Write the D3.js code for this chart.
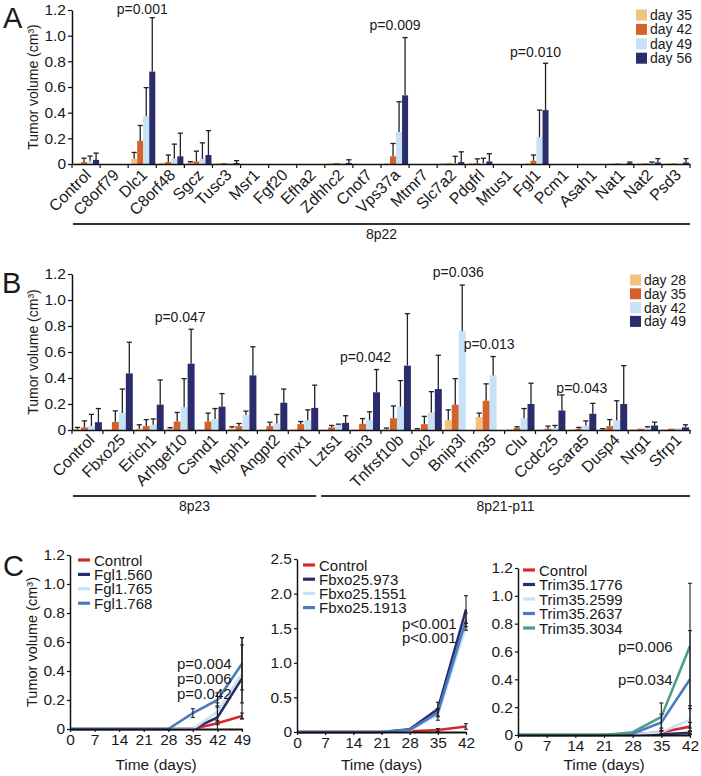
<!DOCTYPE html>
<html><head><meta charset="utf-8">
<script src="https://cdn.jsdelivr.net/npm/d3@7"></script>
<style>
body{margin:0;background:#fff}
svg{display:block}
text{font-family:"Liberation Sans",Arial,sans-serif;fill:#1a1a1a}
</style>
</head><body>
<svg id="c" width="701" height="776"></svg>
<script>
// ---------- Panel A data ----------
const catsA = ["Control","C8orf79","Dlc1","C8orf48","Sgcz","Tusc3","Msr1","Fgf20","Efha2","Zdhhc2","Cnot7","Vps37a","Mtmr7","Slc7a2","Pdgfrl","Mtus1","Fgl1","Pcm1","Asah1","Nat1","Nat2","Psd3"];
const legendA = ["day 35","day 42","day 49","day 56"];
const a35 = [0.005,0,0.04,0.01,0.01,0.008,0,0,0,0.008,0,0.005,0,0.005,0.008,0,0.005,0,0,0.005,0.005,0.005];
const a42 = [0.015,0,0.18,0.015,0.02,0.008,0,0,0,0.008,0,0.06,0,0.005,0.005,0,0.025,0,0,0.005,0.005,0.005];
const a49 = [0.025,0,0.375,0.04,0.04,0.008,0,0,0,0.008,0,0.25,0,0.005,0.005,0,0.21,0,0,0.005,0.005,0.005];
const a56 = [0.032,0,0.72,0.06,0.07,0.008,0,0,0,0.008,0,0.535,0,0.015,0.02,0,0.42,0,0,0.007,0.012,0.012];
const ea35 = [0,0,0.05,0,0.008,0,0,0,0,0,0,0,0,0,0,0,0,0,0,0,0,0];
const ea42 = [0.03,0,0.12,0.055,0.08,0,0,0,0,0,0,0.1,0,0,0.035,0,0.045,0,0,0,0,0];
const ea49 = [0.037,0,0.22,0.115,0.125,0,0,0,0,0,0,0.235,0,0.055,0.04,0,0.21,0,0,0,0.01,0];
const ea56 = [0.053,0,0.42,0.18,0.19,0.018,0,0,0,0.025,0,0.45,0,0.08,0.06,0,0.365,0,0,0.008,0.03,0.03];
const pA = [{cat:"Dlc1",text:"p=0.001",v:1.168},{cat:"Vps37a",text:"p=0.009",v:1.044},{cat:"Fgl1",text:"p=0.010",v:0.834}];
const groupsA = [{label:"8p22",from:"Control",to:"Psd3"}];

// ---------- Panel B data ----------
const catsB = ["Control","Fbxo25","Erich1","Arhgef10","Csmd1","Mcph1","Angpt2","Pinx1","Lzts1","Bin3","Tnfrsf10b","Loxl2","Bnip3l","Trim35","Clu","Ccdc25","Scara5","Dusp4","Nrg1","Sfrp1"];
const legendB = ["day 28","day 35","day 42","day 49"];
const b28 = [0.005,0.005,0.01,0.01,0.005,0.015,0.005,0.005,0.005,0.005,0.005,0.005,0.075,0.1,0.005,0.005,0.005,0.005,0.005,0.005];
const b35 = [0.02,0.062,0.03,0.065,0.065,0.03,0.03,0.045,0.02,0.048,0.09,0.045,0.195,0.225,0.015,0.01,0.01,0.03,0.01,0.01];
const b42 = [0.03,0.13,0.04,0.175,0.085,0.115,0.05,0.075,0.04,0.075,0.18,0.135,0.76,0.42,0.09,0.015,0.035,0.075,0.02,0.015];
const b49 = [0.06,0.435,0.195,0.51,0.18,0.42,0.21,0.17,0.055,0.29,0.495,0.315,0,0,0.2,0.15,0.125,0.2,0.035,0.02];
const eb28 = [0.015,0,0.03,0.008,0,0.01,0,0,0,0,0.01,0.005,0.08,0.03,0,0,0,0.005,0,0];
const eb35 = [0.05,0.085,0.05,0.07,0.065,0.02,0.03,0.02,0.015,0.04,0.095,0.06,0.2,0.13,0.01,0.02,0.01,0.05,0,0];
const eb42 = [0.09,0.185,0.045,0.22,0.08,0.03,0.07,0.08,0.005,0.065,0.2,0.16,0.355,0.145,0.075,0.02,0.035,0.15,0.005,0];
const eb49 = [0.105,0.24,0.19,0.265,0.1,0.22,0.105,0.175,0.055,0.175,0.4,0.26,0,0,0.16,0.12,0.08,0.295,0.025,0.02];
const pB = [{cat:"Arhgef10",text:"p=0.047",v:0.83},{cat:"Bin3",text:"p=0.042",v:0.52},{cat:"Bnip3l",text:"p=0.036",v:1.18},{cat:"Trim35",text:"p=0.013",v:0.62},{cat:"Scara5",text:"p=0.043",v:0.285}];
const groupsB = [{label:"8p23",from:"Control",to:"Pinx1"},{label:"8p21-p11",from:"Lzts1",to:"Sfrp1"}];

const barColors = ["#F4C27F","#D4622B","#C7E1F6","#2A2C6C"];

// ---------- Panel C data ----------
const daysC1 = [0,7,14,21,28,35,42,49];
const daysC23 = [0,7,14,21,28,35,42];
const namesC1 = ["Control","Fgl1.560","Fgl1.765","Fgl1.768"];
const c1Control = [0,0,0,0,0,0,0.04,0.09];
const c1Fgl560  = [0,0,0,0,0,0,0.08,0.35];
const c1Fgl765  = [0,0,0,0,0,0,0.12,0.38];
const c1Fgl768  = [0,0,0,0,0,0.11,0.2,0.45];
const ec1Control = [0,0,0,0,0,0,0.01,0.02];
const ec1Fgl560  = [0,0,0,0,0,0,0.08,0.28];
const ec1Fgl765  = [0,0,0,0,0,0,0.06,0.2];
const ec1Fgl768  = [0,0,0,0,0,0.03,0.05,0.18];
const pC1 = ["p=0.004","p=0.006","p=0.042"];

const namesC2 = ["Control","Fbxo25.973","Fbxo25.1551","Fbxo25.1913"];
const c2Control = [0,0,0,0,0.01,0.03,0.08];
const c2F973    = [0,0,0,0,0.04,0.33,1.77];
const c2F1551   = [0,0,0,0,0.02,0.25,1.52];
const c2F1913   = [0,0,0,0,0.03,0.28,1.62];
const ec2Control = [0,0,0,0,0,0.02,0.04];
const ec2F973    = [0,0,0,0,0,0.1,0.2];
const ec2F1551   = [0,0,0,0,0,0.08,0.05];
const ec2F1913   = [0,0,0,0,0,0.06,0.1];
const pC2 = ["p<0.001","p<0.001"];

const namesC3 = ["Control","Trim35.1776","Trim35.2599","Trim35.2637","Trim35.3034"];
const c3Control = [0,0,0,0,0.005,0.02,0.06];
const c3T1776   = [0,0,0,0,0,0.005,0.015];
const c3T2599   = [0,0,0,0,0.005,0.02,0.11];
const c3T2637   = [0,0,0,0,0.01,0.09,0.40];
const c3T3034   = [0,0,0,0,0.02,0.13,0.64];
const ec3Control = [0,0,0,0,0,0.01,0.03];
const ec3T1776   = [0,0,0,0,0,0,0.01];
const ec3T2599   = [0,0,0,0,0,0.03,0.1];
const ec3T2637   = [0,0,0,0,0,0.06,0.35];
const ec3T3034   = [0,0,0,0,0,0.1,0.45];
const pC3 = ["p=0.006","p=0.034"];

const lineColors = {red:"#D7282F",navy:"#2A2C6C",light:"#C7E1F6",mid:"#4A7BC0",teal:"#4E9E8A"};

const svg = d3.select("#c");
const FONT = '"Liberation Sans",Arial,sans-serif';

function styleAxis(g, fs){
  g.attr("font-family", FONT).attr("font-size", fs);
  g.selectAll("path.domain").attr("stroke","#111").attr("stroke-width",1.5);
  g.selectAll(".tick line").attr("stroke","#111").attr("stroke-width",1.2);
  g.selectAll(".tick text").attr("fill","#1a1a1a");
}

function barPanel(o){
  const g = svg.append("g");
  const x = d3.scaleBand().domain(o.cats).range([o.x0,o.x1]).paddingInner(0).paddingOuter(0);
  const bw = x.bandwidth();
  const sub = d3.scaleBand().domain(d3.range(4)).range([o.subL, bw-o.subR]).paddingInner(0);
  const y = d3.scaleLinear().domain([0,1.2]).range([o.yB,o.yT]);
  o.vals.forEach((arr,si)=>{
    g.append("g").selectAll("rect").data(o.cats.map((c,i)=>({c,v:arr[i]})).filter(d=>d.v>0))
      .join("rect")
      .attr("x",d=>x(d.c)+sub(si)).attr("width",sub.bandwidth())
      .attr("y",d=>y(d.v)).attr("height",d=>y(0)-y(d.v))
      .attr("fill",barColors[si]);
  });
  o.errs.forEach((arr,si)=>{
    const data = o.cats.map((c,i)=>({c,v:o.vals[si][i],e:arr[i]})).filter(d=>d.e>0);
    const eg = g.append("g").attr("stroke","#222").attr("stroke-width",1.3);
    eg.selectAll("line.v").data(data).join("line").attr("class","v")
      .attr("x1",d=>x(d.c)+sub(si)+sub.bandwidth()/2).attr("x2",d=>x(d.c)+sub(si)+sub.bandwidth()/2)
      .attr("y1",d=>y(d.v)).attr("y2",d=>y(d.v+d.e));
    eg.selectAll("line.h").data(data).join("line").attr("class","h")
      .attr("x1",d=>x(d.c)+sub(si)+sub.bandwidth()/2-2.6).attr("x2",d=>x(d.c)+sub(si)+sub.bandwidth()/2+2.6)
      .attr("y1",d=>y(d.v+d.e)).attr("y2",d=>y(d.v+d.e));
  });
  const ya = g.append("g").attr("transform",`translate(${o.x0},0)`)
    .call(d3.axisLeft(y).tickValues([0,0.2,0.4,0.6,0.8,1.0,1.2]).tickFormat(d=>d===0?"0":d3.format(".1f")(d)).tickSize(4).tickSizeOuter(0).tickPadding(2));
  styleAxis(ya,15.5);
  const xa = g.append("g").attr("transform",`translate(0,${o.yB})`)
    .call(d3.axisBottom(x).tickValues([]).tickSizeOuter(0));
  styleAxis(xa,15);
  const edges = o.cats.map(c=>x(c)).concat([o.x1]);
  g.append("g").selectAll("line").data(edges).join("line")
    .attr("x1",d=>d).attr("x2",d=>d).attr("y1",o.yB).attr("y2",o.yB+4)
    .attr("stroke","#111").attr("stroke-width",1.2);
  g.append("g").selectAll("text").data(o.cats).join("text")
    .attr("transform",d=>`translate(${x(d)+bw/2+o.lblDx},${o.yB+o.lblDy}) rotate(-45)`)
    .attr("text-anchor","end").attr("font-size",16).text(d=>d);
  g.append("text").attr("transform",`translate(${o.titleX},${(o.yB+o.yT)/2}) rotate(-90)`)
    .attr("text-anchor","middle").attr("font-size",14).text("Tumor volume (cm³)");
  g.append("text").attr("x",o.letterX).attr("y",o.letterY).attr("font-size",29).text(o.letter);
  const lg = g.append("g");
  o.legend.forEach((t,i)=>{
    lg.append("rect").attr("x",o.legX).attr("y",o.legY+i*o.legDy-5.5).attr("width",11).attr("height",11).attr("fill",barColors[i]);
    lg.append("text").attr("x",o.legX+14).attr("y",o.legY+i*o.legDy+5).attr("font-size",14).text(t);
  });
  o.pvals.forEach(p=>{
    g.append("text").attr("x",x(p.cat)+bw/2).attr("y",y(p.v)).attr("text-anchor","middle").attr("font-size",14).text(p.text);
  });
  o.groups.forEach(gr=>{
    const a = x(gr.from)+(gr.from===o.cats[0]?1:2), b = x(gr.to)+bw-(gr.to===o.cats[o.cats.length-1]?0:3);
    g.append("line").attr("x1",a).attr("x2",b).attr("y1",o.gY).attr("y2",o.gY).attr("stroke","#333").attr("stroke-width",2);
    g.append("text").attr("x",(a+b)/2).attr("y",o.gY+15).attr("text-anchor","middle").attr("font-size",14).text(gr.label);
  });
}

barPanel({cats:catsA,x0:72,x1:690,yB:164,yT:10,subL:3,subR:1,vals:[a35,a42,a49,a56],errs:[ea35,ea42,ea49,ea56],
  lblDx:6,lblDy:12,
  titleX:38,letter:"A",letterX:3,letterY:28,legend:legendA,legX:636,legY:15,legDy:14.4,pvals:pA,groups:groupsA,gY:224});
barPanel({cats:catsB,x0:72,x1:690,yB:430,yT:274,subL:2,subR:1,vals:[b28,b35,b42,b49],errs:[eb28,eb35,eb42,eb49],
  lblDx:8,lblDy:11,
  titleX:38,letter:"B",letterX:2,letterY:293,legend:legendB,legX:630,legY:280,legDy:13.8,pvals:pB,groups:groupsB,gY:496});

function linePanel(o){
  const g = svg.append("g");
  const x = d3.scaleLinear().domain([0,d3.max(o.days)]).range([o.xL,o.xR]);
  const y = d3.scaleLinear().domain([0,o.ymax]).range([o.yB,o.yT]);
  const line = d3.line().x((d,i)=>x(o.days[i])).y(d=>y(d));
  o.series.forEach((s,si)=>{
    g.append("path").datum(s).attr("d",line).attr("fill","none").attr("stroke",o.colors[si]).attr("stroke-width",2.6);
  });
  const eg = g.append("g").attr("stroke","#222").attr("stroke-width",1.1);
  o.errs.forEach((arr,si)=>{
    const data = arr.map((e,i)=>({d:o.days[i],v:o.series[si][i],e})).filter(d=>d.e>0);
    eg.selectAll(null).data(data).join("line")
      .attr("x1",d=>x(d.d)).attr("x2",d=>x(d.d)).attr("y1",d=>y(Math.max(0,d.v-d.e))).attr("y2",d=>y(d.v+d.e));
    eg.selectAll(null).data(data).join("line")
      .attr("x1",d=>x(d.d)-2).attr("x2",d=>x(d.d)+2).attr("y1",d=>y(d.v+d.e)).attr("y2",d=>y(d.v+d.e));
    eg.selectAll(null).data(data.filter(d=>d.v-d.e>0)).join("line")
      .attr("x1",d=>x(d.d)-2).attr("x2",d=>x(d.d)+2).attr("y1",d=>y(d.v-d.e)).attr("y2",d=>y(d.v-d.e));
  });
  const ya = g.append("g").attr("transform",`translate(${o.xL},0)`)
    .call(d3.axisLeft(y).tickValues(o.yTicks).tickFormat(d=>d===0?"0":d3.format(".1f")(d)).tickSize(3).tickSizeOuter(0).tickPadding(2));
  styleAxis(ya,15.5);
  const xa = g.append("g").attr("transform",`translate(0,${o.yB})`)
    .call(d3.axisBottom(x).tickValues(o.days).tickFormat(d3.format("d")).tickSize(3).tickSizeOuter(0).tickPadding(2));
  styleAxis(xa,15.5);
  xa.select("path.domain").attr("stroke-width",2);
  g.append("text").attr("x",(o.xL+o.xR)/2).attr("y",770).attr("text-anchor","middle").attr("font-size",15.5).text("Time (days)");
  o.names.forEach((n,i)=>{
    const yy = o.legY+i*o.legDy;
    g.append("line").attr("x1",o.legX).attr("x2",o.legX+12).attr("y1",yy).attr("y2",yy).attr("stroke",o.colors[i]).attr("stroke-width",3.2);
    g.append("text").attr("x",o.legX+16).attr("y",yy+5.5).attr("font-size",15).text(n);
  });
  o.pvals.forEach((p,i)=>{
    g.append("text").attr("x",o.pX).attr("y",o.pY[i]).attr("font-size",15).text(p);
  });
  return g;
}

const gC1 = linePanel({days:daysC1,xL:70,xR:242,yB:729,yT:555,ymax:1.2,yTicks:[0,0.2,0.4,0.6,0.8,1.0,1.2],
  series:[c1Control,c1Fgl560,c1Fgl765,c1Fgl768],errs:[ec1Control,ec1Fgl560,ec1Fgl765,ec1Fgl768],
  colors:[lineColors.red,lineColors.navy,lineColors.light,lineColors.mid],names:namesC1,legX:78,legY:560,legDy:14.4,
  pvals:pC1,pX:177,pY:[669,684,699]});
gC1.append("text").attr("transform",`translate(37,${(729+555)/2}) rotate(-90)`).attr("text-anchor","middle").attr("font-size",14.5).text("Tumor volume (cm³)");
gC1.append("text").attr("x",3).attr("y",576).attr("font-size",29).text("C");

linePanel({days:daysC23,xL:297,xR:466,yB:732,yT:559,ymax:2.5,yTicks:[0,0.5,1.0,1.5,2.0,2.5],
  series:[c2Control,c2F973,c2F1551,c2F1913],errs:[ec2Control,ec2F973,ec2F1551,ec2F1913],
  colors:[lineColors.red,lineColors.navy,lineColors.light,lineColors.mid],names:namesC2,legX:303,legY:565,legDy:14.2,
  pvals:pC2,pX:402,pY:[629,643]});

linePanel({days:daysC23,xL:518,xR:690,yB:735,yT:568,ymax:1.2,yTicks:[0,0.2,0.4,0.6,0.8,1.0,1.2],
  series:[c3Control,c3T1776,c3T2599,c3T2637,c3T3034],errs:[ec3Control,ec3T1776,ec3T2599,ec3T2637,ec3T3034],
  colors:[lineColors.red,lineColors.navy,lineColors.light,lineColors.mid,lineColors.teal],names:namesC3,legX:523,legY:570,legDy:14.5,
  pvals:pC3,pX:618,pY:[652,685]});
</script>
</body></html>
